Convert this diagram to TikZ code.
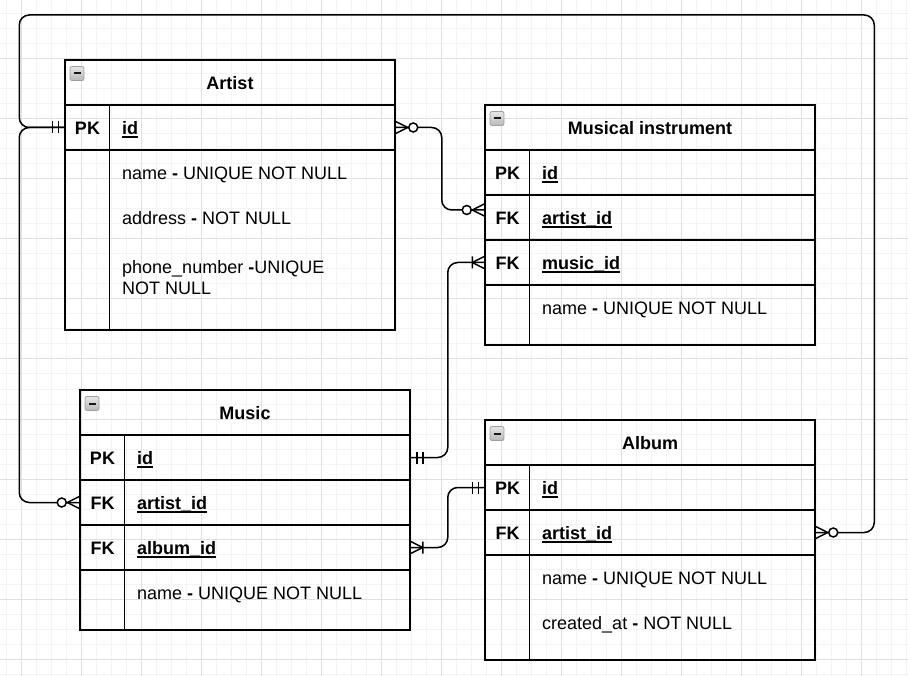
\documentclass[tikz,border=0pt]{standalone}
\usepackage{fontspec}
\setmainfont{Liberation Sans}
\newsavebox\ulbox
\newcommand\keyul[1]{\sbox\ulbox{#1}\rlap{\rule[-3.2pt]{\wd\ulbox}{1.5pt}}\usebox\ulbox}
\tikzset{
  every node/.style={font=\fontsize{18}{21}\selectfont, inner sep=0pt},
  finegrid/.style={draw=gray!9, line width=1pt},
  majorgrid/.style={draw=gray!24, line width=1pt},
  tbox/.style={draw=black, line width=1.5pt, minimum width=330pt, minimum height=45pt},
  ttl/.style={anchor=base, font=\fontsize{18}{21}\selectfont\bfseries},
  keyl/.style={anchor=base, font=\fontsize{18}{21}\selectfont\bfseries},
  fldk/.style={anchor=base west, font=\fontsize{18}{21}\selectfont\bfseries},
  fld/.style={anchor=base west},
  conn/.style={draw=black, line width=1.5pt, rounded corners=10pt},
  endmk/.style={draw=black, line width=1.5pt},
  minusicon/.style={draw=gray!75, line width=0.8pt, rounded corners=2pt, minimum size=14pt,
    top color=gray!20, bottom color=gray!55,
    path picture={\draw[line width=2pt, gray!20!black] ([xshift=3.5pt]path picture bounding box.west) -- ([xshift=-3.5pt]path picture bounding box.east);}},
  pics/zmany/.style={code={\draw[endmk] (0,-6) -- (12,0) -- (0,6); \draw[endmk, fill=white] (17.5,0) circle[radius=4.5pt];}},
  pics/mone/.style={code={\draw[endmk] (6,-6) -- (6,6) (12,-6) -- (12,6);}},
  pics/onemany/.style={code={\draw[endmk] (0,-6) -- (12,0) -- (0,6) (12,-6) -- (12,6);}},
}
\begin{document}
\begin{tikzpicture}[x=1pt, y=-1pt]
\useasboundingbox (0,0) rectangle (908,676);
% grid
\foreach \x in {6,21,...,906} \draw[finegrid] (\x,0) -- (\x,676);
\foreach \y in {14,29,...,674} \draw[finegrid] (0,\y) -- (908,\y);
\foreach \x in {21,81,...,861} \draw[majorgrid] (\x,0) -- (\x,676);
\foreach \y in {59,119,...,659} \draw[majorgrid] (0,\y) -- (908,\y);

% ---------- Artist ----------
\node[tbox] (a-hd) at (230,82.5) {};
\node[tbox] (a-id) at (230,127.5) {};
\node[tbox, minimum height=180pt] (a-body) at (230,240) {};
\draw[endmk] ([xshift=45pt]a-id.north west) -- ([xshift=45pt]a-body.south west);
\node[minusicon] (a-ic) at (77,73.5) {};
\node[ttl] (a-t) at (230,89.5) {Artist};
\node[keyl] (a-k1) at (87.5,134.5) {PK};
\node[fldk] (a-f1) at (122,134.5) {\keyul{id}};
\node[fld] (a-f2) at (122,179.5) {name \textbf{-} UNIQUE NOT NULL};
\node[fld] (a-f3) at (122,224.5) {address \textbf{-} NOT NULL};
\node[fld] (a-f4) at (122,273.5) {phone\_number \textbf{-}UNIQUE};
\node[fld] (a-f5) at (122,294.5) {NOT NULL};

% ---------- Musical instrument ----------
\node[tbox] (mi-hd) at (650,127.5) {};
\node[tbox] (mi-id) at (650,172.5) {};
\node[tbox] (mi-artist) at (650,217.5) {};
\node[tbox] (mi-music) at (650,262.5) {};
\node[tbox, minimum height=60pt] (mi-body) at (650,315) {};
\draw[endmk] ([xshift=45pt]mi-id.north west) -- ([xshift=45pt]mi-body.south west);
\node[minusicon] (mi-ic) at (497,118.5) {};
\node[ttl] (mi-t) at (650,134.5) {Musical instrument};
\node[keyl] (mi-k1) at (507.5,179.5) {PK};
\node[fldk] (mi-f1) at (542,179.5) {\keyul{id}};
\node[keyl] (mi-k2) at (507.5,224.5) {FK};
\node[fldk] (mi-f2) at (542,224.5) {\keyul{artist\_id}};
\node[keyl] (mi-k3) at (507.5,269.5) {FK};
\node[fldk] (mi-f3) at (542,269.5) {\keyul{music\_id}};
\node[fld] (mi-f4) at (542,314.5) {name \textbf{-} UNIQUE NOT NULL};

% ---------- Music ----------
\node[tbox] (mu-hd) at (245,412.5) {};
\node[tbox] (mu-id) at (245,457.5) {};
\node[tbox] (mu-artist) at (245,502.5) {};
\node[tbox] (mu-album) at (245,547.5) {};
\node[tbox, minimum height=60pt] (mu-body) at (245,600) {};
\draw[endmk] ([xshift=45pt]mu-id.north west) -- ([xshift=45pt]mu-body.south west);
\node[minusicon] (mu-ic) at (92,403.5) {};
\node[ttl] (mu-t) at (245,419.5) {Music};
\node[keyl] (mu-k1) at (102.5,464.5) {PK};
\node[fldk] (mu-f1) at (137,464.5) {\keyul{id}};
\node[keyl] (mu-k2) at (102.5,509.5) {FK};
\node[fldk] (mu-f2) at (137,509.5) {\keyul{artist\_id}};
\node[keyl] (mu-k3) at (102.5,554.5) {FK};
\node[fldk] (mu-f3) at (137,554.5) {\keyul{album\_id}};
\node[fld] (mu-f4) at (137,599.5) {name \textbf{-} UNIQUE NOT NULL};

% ---------- Album ----------
\node[tbox] (al-hd) at (650,442.5) {};
\node[tbox] (al-id) at (650,487.5) {};
\node[tbox] (al-artist) at (650,532.5) {};
\node[tbox, minimum height=105pt] (al-body) at (650,607.5) {};
\draw[endmk] ([xshift=45pt]al-id.north west) -- ([xshift=45pt]al-body.south west);
\node[minusicon] (al-ic) at (497,433.5) {};
\node[ttl] (al-t) at (650,449.5) {Album};
\node[keyl] (al-k1) at (507.5,494.5) {PK};
\node[fldk] (al-f1) at (542,494.5) {\keyul{id}};
\node[keyl] (al-k2) at (507.5,539.5) {FK};
\node[fldk] (al-f2) at (542,539.5) {\keyul{artist\_id}};
\node[fld] (al-f3) at (542,584.5) {name \textbf{-} UNIQUE NOT NULL};
\node[fld] (al-f4) at (542,629.5) {created\_at \textbf{-} NOT NULL};

% ---------- connectors ----------
\draw[conn] (a-id.west) -- ++(-45,0) |- (mu-artist.west);
\draw[conn] (a-id.west) -- ++(-45,0) -- ++(0,-112.5) -- ++(855,0) |- (al-artist.east);
\draw[conn] (a-id.east) -- ++(46,0) |- ([yshift=7.5pt]mi-artist.west);
\draw[conn] (mu-id.east) -- ++(37,0) |- (mi-music.west);
\draw[conn] (mu-album.east) -- ++(37,0) |- (al-id.west);

% ---------- end marks ----------
\pic[xscale=-1] at (a-id.west) {mone};
\pic at (a-id.east) {zmany};
\pic[xscale=-1] at ([yshift=7.5pt]mi-artist.west) {zmany};
\pic[xscale=-1] at (mi-music.west) {onemany};
\pic at (mu-id.east) {mone};
\pic[xscale=-1] at (mu-artist.west) {zmany};
\pic at (mu-album.east) {onemany};
\pic[xscale=-1] at (al-id.west) {mone};
\pic at (al-artist.east) {zmany};
\end{tikzpicture}
\end{document}
